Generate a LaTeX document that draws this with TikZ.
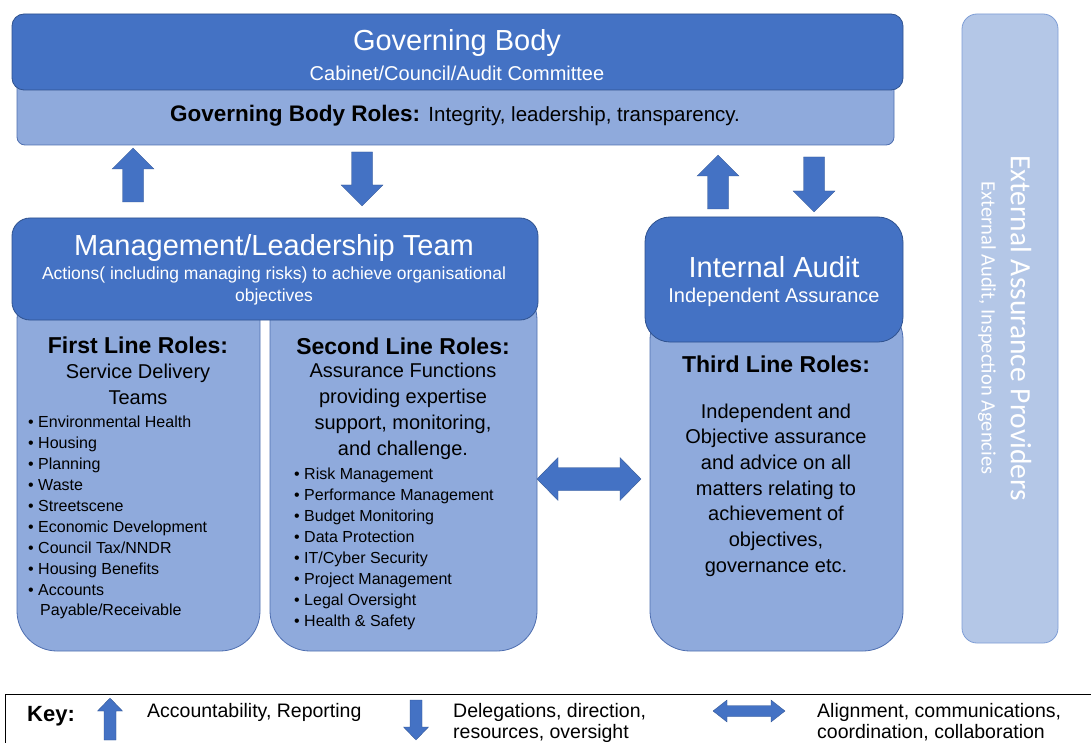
\documentclass[tikz,border=0pt]{standalone}
\usepackage{fontspec}
\setmainfont{Liberation Sans}
\newfontfamily\extfont{Carlito}
\usepackage{xcolor}

\definecolor{darkblue}{HTML}{4472C4}
\definecolor{darkedge}{HTML}{2F528F}
\definecolor{lightblue}{HTML}{8FAADC}
\definecolor{lightedge}{HTML}{4F6FB0}
\definecolor{paleblue}{HTML}{B4C7E7}
\definecolor{paleedge}{HTML}{7F9ED6}

\tikzset{
  headbox/.style={fill=darkblue, draw=darkedge, line width=0.8},
  rolebox/.style={fill=lightblue, draw=lightedge, line width=0.8},
  extbox/.style={fill=paleblue, draw=paleedge, line width=0.8, rounded corners=15},
  blockarrow/.style={fill=darkblue, draw=darkedge, line width=0.3},
  headtitle/.style={text=white, font=\fontsize{29}{33}\selectfont},
  headsub/.style={text=white, font=\fontsize{20}{22}\selectfont, align=center},
  roletitle/.style={font=\fontsize{23}{26}\selectfont\bfseries},
  roletext/.style={font=\fontsize{20}{26}\selectfont, align=center},
  listitem/.style={anchor=base west, inner sep=0, font=\fontsize{16}{19}\selectfont},
  keytext/.style={anchor=north west, inner sep=0, align=left, font=\fontsize{19.5}{20.5}\selectfont}
}

\begin{document}
\begin{tikzpicture}[x=1pt,y=-1pt]
\clip (0,0) rectangle (1091,743);
\fill[white] (0,0) rectangle (1091,743);

% light role boxes (behind the heads)
\draw[rolebox, rounded corners=8] (17,60) rectangle (894,145);
\draw[rolebox, rounded corners=40] (17,280) rectangle (260,651);
\draw[rolebox, rounded corners=40] (270,280) rectangle (537,651);
\draw[rolebox, rounded corners=40] (650,300) rectangle (903,651);

% dark head boxes
\draw[headbox, rounded corners=12] (12,14) rectangle (903,90);
\draw[headbox, rounded corners=18] (12,218) rectangle (538,320);
\draw[headbox, rounded corners=25] (645,217) rectangle (903,342);

% external providers
\draw[extbox] (962,14) rectangle (1058,643);

% governing body
\node[headtitle] (gov) at (457,43) {Governing Body};
\node[headsub] (govsub) at (457,73) {Cabinet/Council/Audit Committee};
\node (govroles) at (455,116) {\fontsize{22.5}{25}\selectfont\bfseries Governing Body Roles: \mdseries\fontsize{20.5}{23}\selectfont Integrity, leadership, transparency.};

% management
\node[headtitle] (mgmt) at (274,248) {Management/Leadership Team};
\node[headsub, font=\fontsize{17.5}{22}\selectfont] (mgmtsub) at (274,286) {Actions( including managing risks) to achieve organisational\\objectives};

% first line
\node[roletitle] (first) at (138,345) {First Line Roles:};
\node[roletext] (firstsub) at (138,384) {Service Delivery\\Teams};
\foreach \t [count=\i] in {Environmental Health, Housing, Planning, Waste, Streetscene, Economic Development, Council Tax/NNDR, Housing Benefits, Accounts}
  \node[listitem] (fl\i) at (28,{427+21.1*(\i-1)}) {\textbullet\ \t};
\node[listitem] (fl10) at (40,615) {Payable/Receivable};

% second line
\node[roletitle] (second) at (403,346) {Second Line Roles:};
\node[roletext] (secondsub) at (403,411) {Assurance Functions\\providing expertise\\support, monitoring,\\and challenge.};
\foreach \t [count=\i] in {Risk Management, Performance Management, Budget Monitoring, Data Protection, IT/Cyber Security, Project Management, Legal Oversight, Health \& Safety}
  \node[listitem] (sl\i) at (294,{479+21.1*(\i-1)}) {\textbullet\ \t};

% internal audit / third line
\node[headtitle] (audit) at (774,267) {Internal Audit};
\node[headsub] (auditsub) at (774,297) {Independent Assurance};
\node[roletitle] (third) at (776,364) {Third Line Roles:};
\node[roletext, font=\fontsize{20}{25.7}\selectfont] (thirdsub) at (776,490) {Independent and\\Objective assurance\\and advice on all\\matters relating to\\achievement of\\objectives,\\governance etc.};

% external text
\node[rotate=-90, text=white, font=\extfont\fontsize{29.5}{31}\selectfont] (ext) at (1021,328) {External Assurance Providers};
\node[rotate=-90, text=white, font=\extfont\fontsize{20.5}{22}\selectfont] (extsub) at (987,328) {External Audit, Inspection Agencies};

% block arrows
\foreach \cx/\tp/\bt in {133/148/202, 718/155/209}
  \draw[blockarrow] ({\cx-10.5},\bt) -- ({\cx-10.5},{\tp+21}) -- ({\cx-21},{\tp+21}) -- (\cx,\tp)
    -- ({\cx+21},{\tp+21}) -- ({\cx+10.5},{\tp+21}) -- ({\cx+10.5},\bt) -- cycle;
\foreach \cx/\tp/\bt in {362/152/206, 814/157/212}
  \draw[blockarrow] ({\cx-10.5},\tp) -- ({\cx-10.5},{\bt-21}) -- ({\cx-21},{\bt-21}) -- (\cx,\bt)
    -- ({\cx+21},{\bt-21}) -- ({\cx+10.5},{\bt-21}) -- ({\cx+10.5},\tp) -- cycle;
\draw[blockarrow] (537,479) -- (558,457.5) -- (558,467.5) -- (620,467.5) -- (620,457.5) -- (641,479)
  -- (620,500.5) -- (620,490.5) -- (558,490.5) -- (558,500.5) -- cycle;

% key
\draw[black, line width=0.8] (5,760) -- (5,694) -- (1095,694) -- (1095,760);
\node[anchor=base west, inner sep=0, font=\fontsize{22}{24}\selectfont\bfseries] (key) at (27,721) {Key:};
\draw[blockarrow] (104,740) -- (104,711) -- (97.5,711) -- (110,698) -- (122.5,711) -- (116,711) -- (116,740) -- cycle;
\node[keytext] (keyup) at (147,703.5) {Accountability, Reporting};
\draw[blockarrow] (410,700) -- (410,727) -- (403.5,727) -- (416,740) -- (428.5,727) -- (422,727) -- (422,700) -- cycle;
\node[keytext] (keydown) at (453,703.5) {Delegations, direction,\\resources, oversight};
\draw[blockarrow] (713,711) -- (727,700) -- (727,705.5) -- (771,705.5) -- (771,700) -- (785,711)
  -- (771,722) -- (771,716.5) -- (727,716.5) -- (727,722) -- cycle;
\node[keytext] (keyboth) at (817,703.5) {Alignment, communications,\\coordination, collaboration};
\end{tikzpicture}
\end{document}
